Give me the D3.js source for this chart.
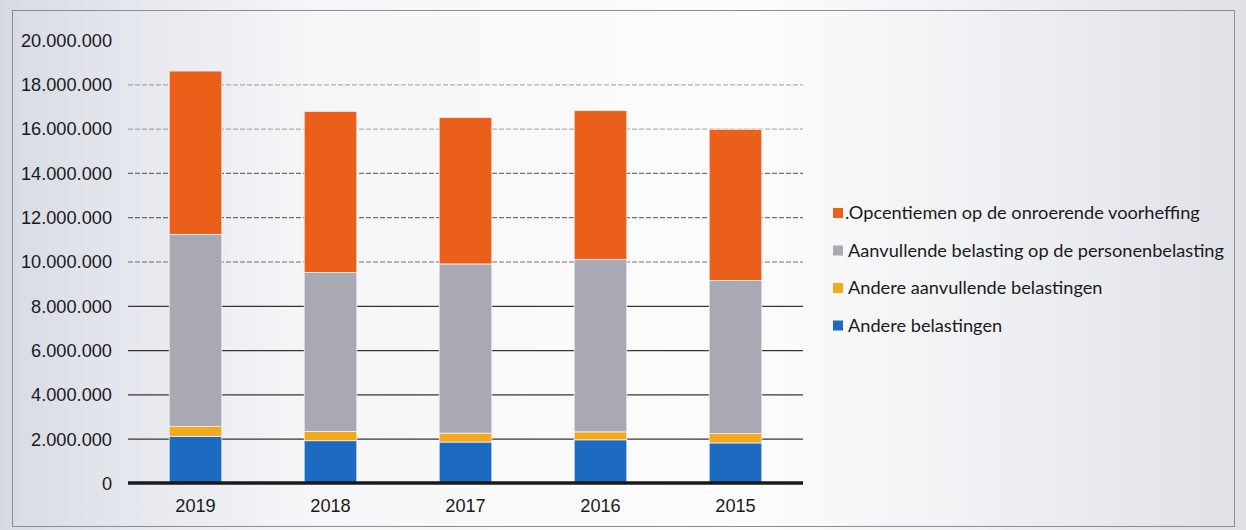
<!DOCTYPE html>
<html>
<head>
<meta charset="utf-8">
<script src="https://cdn.jsdelivr.net/npm/d3@7"></script>
<style>
  html, body { margin: 0; padding: 0; background: #fff; }
  svg { display: block; font-family: Lato, "Open Sans", sans-serif; }
</style>
</head>
<body>
<svg id="chart" width="1246" height="530"></svg>
<script>
// ---- data (values in euro) ----
const years = ["2019", "2018", "2017", "2016", "2015"];
const andereBelastingen = [2110000, 1910000, 1850000, 1950000, 1810000];
const andereAanvullende = [440000, 420000, 400000, 360000, 420000];
const aanvullendePB = [8670000, 7170000, 7640000, 7780000, 6910000];
const opcentiemenOV = [7380000, 7280000, 6610000, 6720000, 6830000];
const seriesNames = [
  "Andere belastingen",
  "Andere aanvullende belastingen",
  "Aanvullende belasting op de personenbelasting",
  ".Opcentiemen op de onroerende voorheffing"
];
const seriesColors = ["#1c6bc0", "#f2a91d", "#a8a9b3", "#ea5f1a"];
const yTicks = [0, 2000000, 4000000, 6000000, 8000000, 10000000, 12000000, 14000000, 16000000, 18000000, 20000000];

const keys = ["blue", "yellow", "gray", "orange"];
const rows = years.map((y, i) => ({
  year: y,
  blue: andereBelastingen[i],
  yellow: andereAanvullende[i],
  gray: aanvullendePB[i],
  orange: opcentiemenOV[i]
}));

const svg = d3.select("#chart");
const W = 1246, H = 530;

// background like the scanned page
const defs = svg.append("defs");
const bg = defs.append("linearGradient").attr("id", "bg").attr("x1", "0").attr("x2", "1").attr("y1", "0").attr("y2", "0");
[[0, "#d6dae3"], [0.1, "#e4e7ed"], [0.25, "#f6f6f8"], [0.6, "#fcfcfc"], [0.8, "#eff0f3"], [1, "#dfe1e7"]]
  .forEach(([o, c]) => bg.append("stop").attr("offset", o).attr("stop-color", c));
svg.append("rect").attr("width", W).attr("height", H).attr("fill", "url(#bg)");
svg.append("rect").attr("x", 12.5).attr("y", 10.5).attr("width", 1222).attr("height", 516)
  .attr("fill", "none").attr("stroke", "#8a8d94").attr("stroke-width", 1);

const x0 = 128, x1 = 803;
const y = d3.scaleLinear().domain([0, 20000000]).range([483, 40]);
const x = d3.scaleBand().domain(years).range([x0, x1]).paddingInner(0.61).paddingOuter(0.305);

// y axis (labels + gridlines)
const fmt = v => d3.format(",")(v).replace(/,/g, ".");
const yAxis = d3.axisLeft(y).tickValues(yTicks).tickFormat(fmt).tickSize(0).tickPadding(0);
const gy = svg.append("g").attr("transform", `translate(112,0)`).call(yAxis);
gy.select(".domain").remove();
gy.selectAll("text").attr("font-size", 18.2).attr("fill", "#1a1a1a").attr("dy", "0.35em");

const grid = d3.axisLeft(y).tickValues(yTicks.slice(1, -1)).tickSize(-(x1 - x0)).tickFormat("");
const gg = svg.append("g").attr("transform", `translate(${x0},0)`).call(grid);
gg.select(".domain").remove();
gg.selectAll("line").attr("stroke", "#2a2a2a").attr("stroke-width", 1.2)
  .attr("stroke-dasharray", (d) => d >= 10000000 ? "5,2" : null)
  .attr("stroke-opacity", (d) => d >= 16000000 ? 0.35 : (d >= 10000000 ? 0.65 : 0.95));

// stacked bars
const stack = d3.stack().keys(keys)(rows);
svg.append("g").selectAll("g").data(stack).join("g")
  .attr("fill", (d, i) => seriesColors[i])
  .selectAll("rect").data(d => d).join("rect")
  .attr("x", d => x(d.data.year))
  .attr("width", x.bandwidth())
  .attr("y", d => y(d[1]))
  .attr("height", d => y(d[0]) - y(d[1]))
  .attr("stroke", "#f4f2f6").attr("stroke-width", 0.8);

// x axis baseline and labels
const xAxis = d3.axisBottom(x).tickSize(0).tickPadding(16);
const gx = svg.append("g").attr("transform", `translate(0,${y(0)})`).call(xAxis);
gx.select(".domain").attr("stroke", "#1a1a1a").attr("stroke-width", 3.5)
  .attr("d", `M${x0},0H${x1}`);
gx.selectAll("text").attr("font-size", 18.2).attr("fill", "#1a1a1a");

// legend (top series first)
const legendItems = [3, 2, 1, 0];
const lg = svg.append("g");
legendItems.forEach((si, k) => {
  const cy = 213 + k * 37.5;
  lg.append("rect").attr("x", 833).attr("y", cy - 5).attr("width", 10).attr("height", 10)
    .attr("fill", seriesColors[si]);
  lg.append("text").attr("x", si === 3 ? 845 : 848).attr("y", cy).attr("dy", "0.35em")
    .attr("font-size", 18.2).attr("fill", "#1a1a1a").text(seriesNames[si]);
});
</script>
</body>
</html>
